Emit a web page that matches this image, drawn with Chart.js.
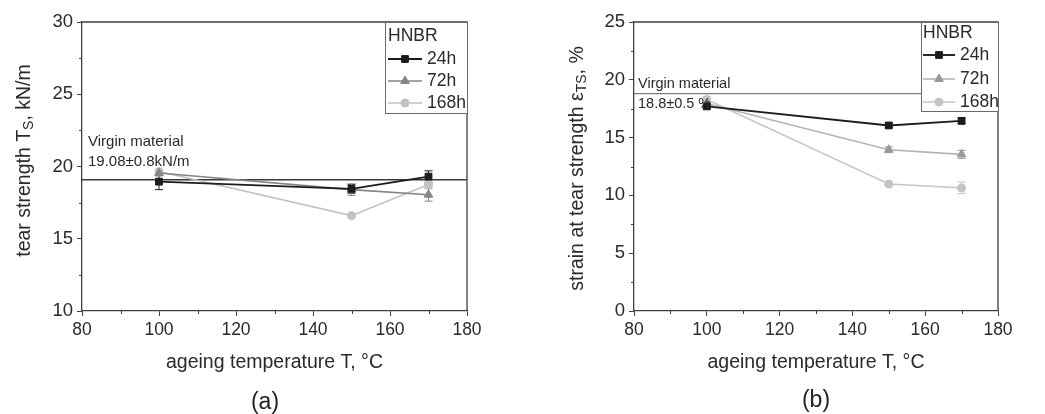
<!DOCTYPE html>
<html><head><meta charset="utf-8">
<script src="https://cdn.jsdelivr.net/npm/chart.js@4/dist/chart.umd.min.js"></script>
<style>
html,body{margin:0;padding:0;background:#fff;}
#wrap{position:relative;width:1045px;height:414px;overflow:hidden;font-family:"Liberation Sans",Arial,sans-serif;}
canvas{position:absolute;top:0;}
.pl{position:absolute;font-size:23px;color:#222;transform:translate(-50%,-50%);font-family:"Liberation Sans",Arial,sans-serif;}
</style></head><body>
<div id="wrap">
<canvas id="ca" width="490" height="414" style="left:0"></canvas>
<canvas id="cb" width="555" height="414" style="left:490px"></canvas>
<div class="pl" style="left:265px;top:401px">(a)</div>
<div class="pl" style="left:816px;top:399px">(b)</div>
</div>
<script>
// ---------- data ----------
const temps = [100, 150, 170];
const seriesNames = ['24h', '72h', '168h'];
const legendTitle = 'HNBR';

// (a) tear strength, kN/m
const tearA_24 = [18.95, 18.45, 19.30];
const tearA_72 = [19.55, 18.40, 18.05];
const tearA_168 = [19.65, 16.60, 18.75];
const errA_24 = [0.55, 0.30, 0.40];
const errA_72 = [0.20, 0.40, 0.45];
const errA_168 = [0.15, 0.15, 0.30];
const virginA = 19.08;
const virginLabelA = ['Virgin material', '19.08±0.8kN/m'];

// (b) strain at tear strength, %
const strainB_24 = [17.70, 16.05, 16.45];
const strainB_72 = [17.95, 13.95, 13.55];
const strainB_168 = [18.30, 10.98, 10.65];
const errB_24 = [0.20, 0.20, 0.25];
const errB_72 = [0.20, 0.25, 0.35];
const errB_168 = [0.25, 0.20, 0.50];
const virginB = 18.8;
const virginLabelB = ['Virgin material', '18.8±0.5 %'];

const xTitle = 'ageing temperature T, °C';
const yTitleA = [['tear strength T', 0], ['S', 1], [', kN/m', 0]];
const yTitleB = [['strain at tear strength ε', 0], ['TS', 1], [', %', 0]];

// ---------- styling ----------
const FONT = '"Liberation Sans", Arial, sans-serif';
const TXT = '#2a2a2a';
const AX = '#404040';

function pts(vals) { return vals.map((v, i) => ({x: temps[i], y: v})); }

function series(label, vals, err, color, pcolor, style, r, bw) {
  return {label, data: pts(vals), err, inLegend: true,
    borderColor: color, backgroundColor: pcolor, borderWidth: bw,
    pointStyle: style, pointRadius: r, pointHoverRadius: r,
    pointBackgroundColor: pcolor, pointBorderColor: pcolor, pointBorderWidth: 1, tension: 0};
}
function virginLine(v, color, w) {
  return {label: 'virgin', data: [{x: 80, y: v}, {x: 180, y: v}], borderColor: color,
    borderWidth: w, pointRadius: 0, inLegend: false, order: 10};
}

const decor = {
  id: 'decor',
  beforeDatasetsDraw(chart) {
    const {ctx, scales: {x, y}} = chart;
    ctx.save();
    chart.data.datasets.forEach(ds => {
      if (!ds.err) return;
      ctx.strokeStyle = ds.pointBorderColor; ctx.lineWidth = 1;
      ds.data.forEach((p, j) => {
        const px = x.getPixelForValue(p.x);
        const y1 = y.getPixelForValue(p.y - ds.err[j]);
        const y2 = y.getPixelForValue(p.y + ds.err[j]);
        ctx.beginPath();
        ctx.moveTo(px, y1); ctx.lineTo(px, y2);
        ctx.moveTo(px - 4, y1); ctx.lineTo(px + 4, y1);
        ctx.moveTo(px - 4, y2); ctx.lineTo(px + 4, y2);
        ctx.stroke();
      });
    });
    ctx.restore();
  },
  afterDraw(chart, args, o) {
    const {ctx, chartArea: a, scales: {x, y}} = chart;
    ctx.save();
    // top & right frame
    ctx.strokeStyle = AX; ctx.lineWidth = 1.3;
    ctx.beginPath();
    ctx.moveTo(a.left, a.top); ctx.lineTo(a.right, a.top); ctx.lineTo(a.right, a.bottom);
    ctx.stroke();
    // minor ticks
    ctx.lineWidth = 1;
    ctx.beginPath();
    const xt = x.ticks.map(t => t.value), yt = y.ticks.map(t => t.value);
    for (let i = 0; i < xt.length - 1; i++) {
      const px = Math.round(x.getPixelForValue((xt[i] + xt[i + 1]) / 2)) + 0.5;
      ctx.moveTo(px, a.bottom); ctx.lineTo(px, a.bottom + 3);
    }
    for (let i = 0; i < yt.length - 1; i++) {
      const py = Math.round(y.getPixelForValue((yt[i] + yt[i + 1]) / 2)) + 0.5;
      ctx.moveTo(a.left, py); ctx.lineTo(a.left - 3, py);
    }
    ctx.stroke();
    // virgin annotation
    ctx.fillStyle = TXT; ctx.textAlign = 'left'; ctx.textBaseline = 'middle';
    ctx.font = o.annFont + 'px ' + FONT;
    const vy = y.getPixelForValue(o.virgin);
    o.annText.forEach((t, i) => ctx.fillText(t, a.left + o.annX, vy + o.annDy[i]));
    // y title with subscript
    const fs = 19.5, sfs = 14;
    ctx.translate(o.yTitleX, (a.top + a.bottom) / 2 + o.yTitleDy);
    ctx.rotate(-Math.PI / 2);
    let total = 0;
    o.yTitle.forEach(([t, sub]) => { ctx.font = (sub ? sfs : fs) + 'px ' + FONT; total += ctx.measureText(t).width; });
    let cx = -total / 2;
    ctx.textBaseline = 'alphabetic';
    o.yTitle.forEach(([t, sub]) => {
      ctx.font = (sub ? sfs : fs) + 'px ' + FONT;
      ctx.fillText(t, cx, sub ? 10 : 7);
      cx += ctx.measureText(t).width;
    });
    ctx.setTransform(1, 0, 0, 1, 0, 0);
    // legend box
    const L = o.legend;
    const bx = a.right - L.w, by = a.top;
    ctx.fillStyle = '#fff'; ctx.fillRect(bx, by, L.w, L.h);
    ctx.strokeStyle = '#6a6a6a'; ctx.lineWidth = 1;
    ctx.strokeRect(Math.round(bx) + 0.5, Math.round(by) + 0.5, L.w, L.h);
    ctx.font = '17.5px ' + FONT; ctx.fillStyle = TXT; ctx.textBaseline = 'middle'; ctx.textAlign = 'left';
    ctx.fillText(legendTitle, bx + L.tx, by + L.ty);
    chart.data.datasets.filter(d => d.inLegend).forEach((ds, i) => {
      const yy = by + L.rows[i];
      ctx.strokeStyle = ds.borderColor; ctx.lineWidth = ds.borderWidth;
      ctx.beginPath(); ctx.moveTo(bx + L.l0, yy); ctx.lineTo(bx + L.l1, yy); ctx.stroke();
      ctx.fillStyle = ds.pointBackgroundColor; ctx.strokeStyle = ds.pointBorderColor; ctx.lineWidth = 1;
      Chart.helpers.drawPoint(ctx, {pointStyle: ds.pointStyle, radius: ds.pointRadius, borderWidth: 1, rotation: 0},
        bx + (L.l0 + L.l1) / 2, yy);
      ctx.fillStyle = TXT;
      ctx.fillText(ds.label, bx + L.tx2, yy);
    });
    ctx.restore();
  }
};

function makeChart(id, geo, datasets, yMin, yMax, decorOpts) {
  const H = 414;
  return new Chart(document.getElementById(id), {
    type: 'line',
    data: {datasets},
    plugins: [decor],
    options: {
      responsive: false, animation: false, devicePixelRatio: 1,
      layout: {padding: {left: 0, top: geo.top, right: geo.right, bottom: 0}},
      plugins: {legend: {display: false}, tooltip: {enabled: false}, decor: decorOpts},
      scales: {
        x: {type: 'linear', min: 80, max: 180,
          ticks: {stepSize: 20, color: TXT, font: {size: 17.5, family: FONT}, padding: 4},
          grid: {display: true, drawOnChartArea: false, tickLength: 5, tickColor: AX, tickWidth: 1},
          border: {display: true, color: AX, width: 1.3},
          title: {display: true, text: xTitle, color: TXT, font: {size: 19.5, family: FONT}, padding: {top: 0, bottom: 40}},
          afterFit: s => { s.height = H - geo.bottom; }
        },
        y: {min: yMin, max: yMax,
          ticks: {stepSize: 5, color: TXT, font: {size: 18.5, family: FONT}, padding: 4},
          grid: {display: true, drawOnChartArea: false, tickLength: 5, tickColor: AX, tickWidth: 1},
          border: {display: true, color: AX, width: 1.3},
          afterFit: s => { s.width = geo.left; }
        }
      }
    }
  });
}

makeChart('ca', {left: 82, right: 23, top: 22, bottom: 311}, [
  series(seriesNames[0], tearA_24, errA_24, '#1c1c1c', '#1c1c1c', 'rect', 4.8, 1.9),
  series(seriesNames[1], tearA_72, errA_72, '#858585', '#858585', 'triangle', 5, 1.6),
  series(seriesNames[2], tearA_168, errA_168, '#c2c2c2', '#c2c2c2', 'circle', 4, 1.6),
  virginLine(virginA, '#3a3a3a', 1.4)
], 10, 30, {
  virgin: virginA, annText: virginLabelA, annX: 6, annDy: [-38, -18], annFont: 15,
  yTitle: yTitleA, yTitleX: 23, yTitleDy: -6,
  legend: {w: 82, h: 91, tx: 3, ty: 14, rows: [37, 59, 81], l0: 3, l1: 37, tx2: 42}
});

makeChart('cb', {left: 144, right: 47, top: 22, bottom: 311}, [
  series(seriesNames[0], strainB_24, errB_24, '#1c1c1c', '#1c1c1c', 'rect', 4.8, 1.9),
  series(seriesNames[1], strainB_72, errB_72, '#b4b4b4', '#9a9a9a', 'triangle', 5, 1.6),
  series(seriesNames[2], strainB_168, errB_168, '#c8c8c8', '#c4c4c4', 'circle', 4, 1.6),
  virginLine(virginB, '#7a7a7a', 1.3)
], 0, 25, {
  virgin: virginB, annText: virginLabelB, annX: 4, annDy: [-10, 10], annFont: 14.5,
  yTitle: yTitleB, yTitleX: 86, yTitleDy: 2,
  legend: {w: 77, h: 89, tx: 2, ty: 11, rows: [33, 57, 80], l0: 2, l1: 34, tx2: 39}
});
</script>
</body></html>
